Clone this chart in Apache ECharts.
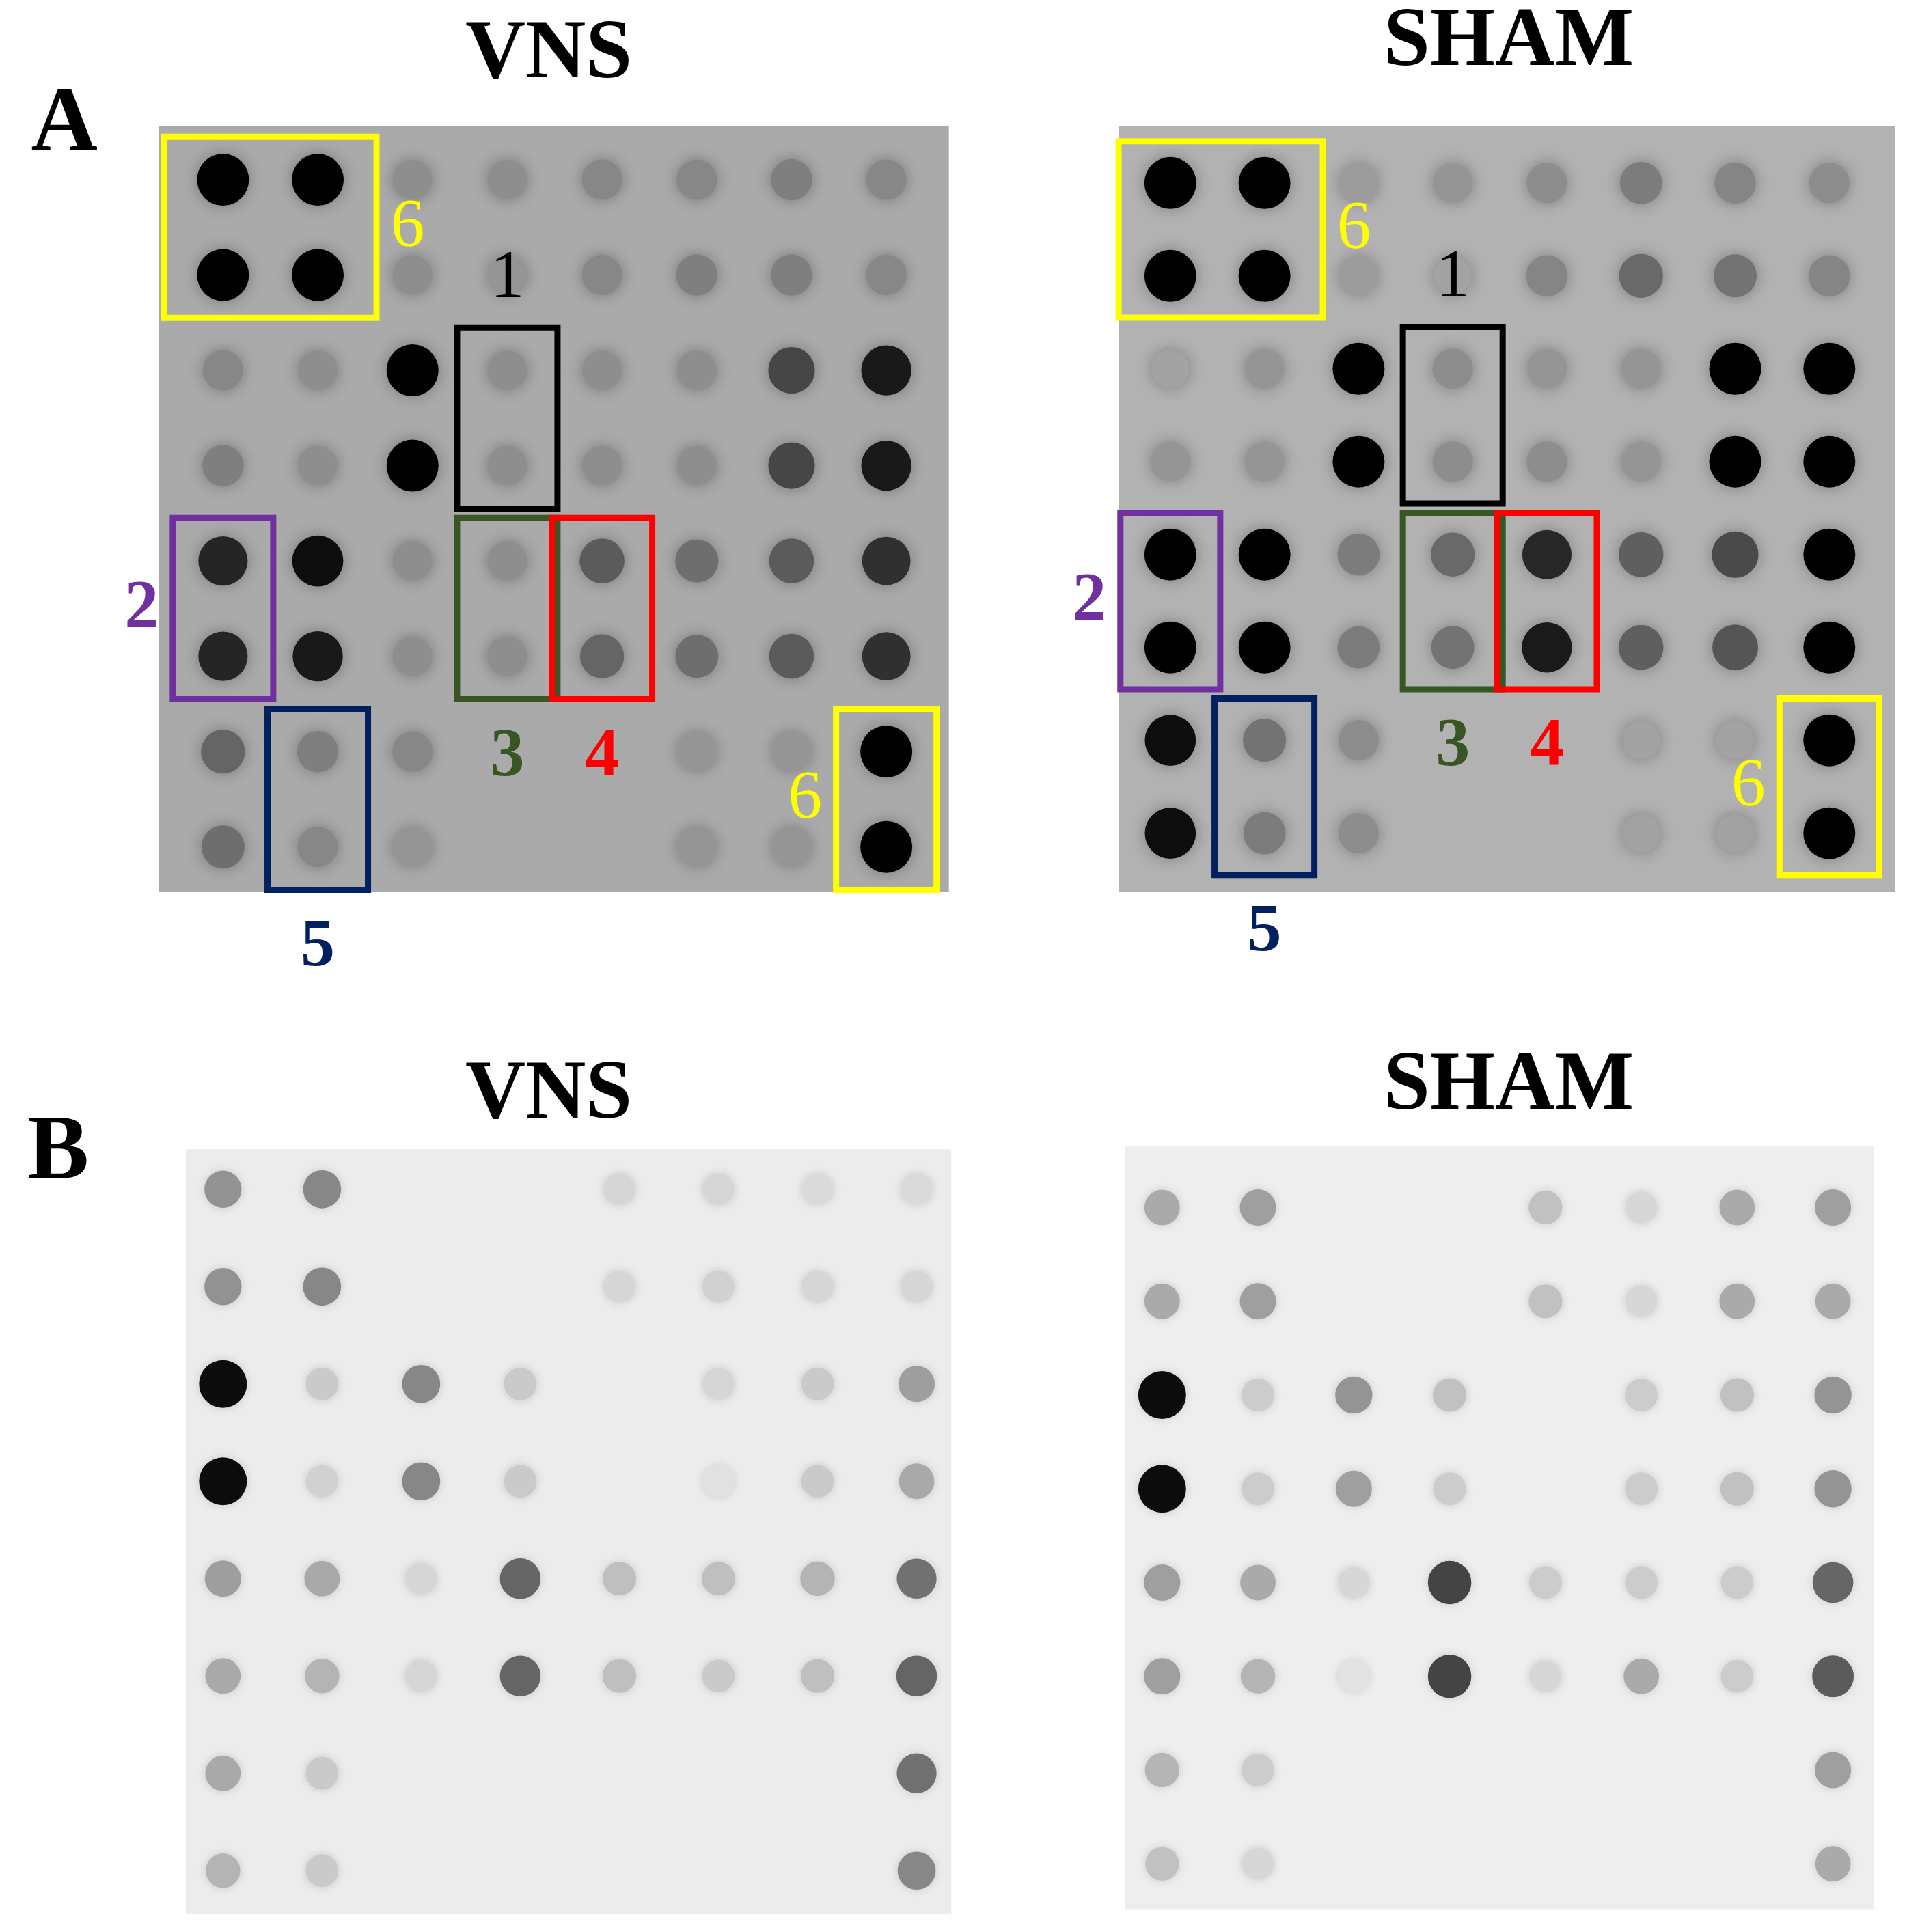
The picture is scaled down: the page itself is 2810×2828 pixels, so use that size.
<!DOCTYPE html>
<html><head><meta charset="utf-8">
<script src="https://cdn.jsdelivr.net/npm/echarts@6/dist/echarts.min.js"></script>
<style>html,body{margin:0;padding:0;background:#fff}#c{width:2810px;height:2828px}</style>
</head><body><div id="c"></div>
<script>
// Dot intensities (0 = background, 1 = black), rows top to bottom, 8 columns each
const aVNS = [
 [1,1,0.3,0.3,0.35,0.35,0.4,0.35],
 [1,1,0.3,0.25,0.35,0.4,0.4,0.35],
 [0.35,0.3,1,0.3,0.3,0.3,0.7,0.9],
 [0.4,0.3,1,0.3,0.3,0.3,0.7,0.9],
 [0.85,0.95,0.3,0.3,0.6,0.5,0.6,0.8],
 [0.85,0.9,0.3,0.3,0.55,0.5,0.6,0.8],
 [0.55,0.4,0.35,0,0,0.25,0.25,1],
 [0.5,0.35,0.25,0,0,0.25,0.25,1]];
const aSHAM = [
 [1,1,0.25,0.3,0.35,0.45,0.4,0.35],
 [1,1,0.25,0.2,0.4,0.55,0.5,0.4],
 [0.2,0.3,1,0.35,0.3,0.3,1,1],
 [0.3,0.3,1,0.35,0.35,0.3,1,1],
 [1,1,0.45,0.55,0.85,0.6,0.7,1],
 [1,1,0.45,0.5,0.9,0.6,0.65,1],
 [0.95,0.5,0.35,0,0,0.2,0.2,1],
 [0.95,0.45,0.35,0,0,0.2,0.2,1]];
const bVNS = [
 [0.4,0.45,0,0,0.1,0.1,0.08,0.08],
 [0.4,0.45,0,0,0.1,0.12,0.1,0.1],
 [1,0.15,0.45,0.15,0,0.1,0.15,0.35],
 [1,0.12,0.45,0.15,0,0.05,0.15,0.3],
 [0.35,0.3,0.1,0.6,0.2,0.2,0.25,0.55],
 [0.3,0.25,0.1,0.6,0.2,0.15,0.2,0.6],
 [0.3,0.15,0,0,0,0,0,0.55],
 [0.25,0.15,0,0,0,0,0,0.45]];
const bSHAM = [
 [0.3,0.35,0,0,0.2,0.1,0.3,0.35],
 [0.3,0.35,0,0,0.2,0.1,0.3,0.3],
 [1,0.15,0.4,0.2,0,0.15,0.2,0.4],
 [1,0.15,0.35,0.15,0,0.15,0.2,0.4],
 [0.35,0.3,0.1,0.75,0.15,0.15,0.15,0.6],
 [0.35,0.25,0.05,0.75,0.1,0.3,0.15,0.65],
 [0.25,0.15,0,0,0,0,0,0.35],
 [0.2,0.1,0,0,0,0,0,0.3]];
const titles = ['VNS','SHAM','VNS','SHAM'];
const panelLetters = ['A','B'];
// annotation boxes: [panel, col0, col1, row0, row1, color, label, labelPos, bold]
const boxes = [
 [0,0,1,0,1,'#ffff00','6','right',false],
 [0,3,3,2,3,'#000000','1','top',false],
 [0,0,0,4,5,'#7030a0','2','left',true],
 [0,3,3,4,5,'#375623','3','bottom',true],
 [0,4,4,4,5,'#ff0000','4','bottom',true],
 [0,1,1,6,7,'#002060','5','bottom',true],
 [0,7,7,6,7,'#ffff00','6','left',false],
 [1,0,1,0,1,'#ffff00','6','right',false],
 [1,3,3,2,3,'#000000','1','top',false],
 [1,0,0,4,5,'#7030a0','2','left',true],
 [1,3,3,4,5,'#375623','3','bottom',true],
 [1,4,4,4,5,'#ff0000','4','bottom',true],
 [1,1,1,6,7,'#002060','5','bottom',true],
 [1,7,7,6,7,'#ffff00','6','left',false]];

const S = 2810/1550;
const panels = [
 {d:aVNS, bg:[170,170,170], box:[128,102,638,618], x:[-0.68,7.66], y:[-0.56,7.47]},
 {d:aSHAM, bg:[178,178,178], box:[903,102,627,618], x:[-0.55,7.7], y:[-0.61,7.63]},
 {d:bVNS, bg:[236,236,236], box:[150,928,618,617], x:[-0.375,7.35], y:[-0.41,7.44]},
 {d:bSHAM, bg:[238,238,238], box:[908,925,605,617], x:[-0.39,7.43], y:[-0.66,7.49]}];
const titlePos = [[443,45],[1218,35],[443,885],[1218,878]];
const letterPos = [[52,102],[47,932]];

const grid=[], xAxis=[], yAxis=[], series=[], graphic=[];
panels.forEach((p,i)=>{
  const [l,t,w,h]=p.box;
  const isA=i<2;
  grid.push({left:l*S,top:t*S,width:w*S,height:h*S,show:true,backgroundColor:`rgb(${p.bg})`,borderWidth:0});
  xAxis.push({gridIndex:i,type:'value',min:p.x[0],max:p.x[1],show:false});
  yAxis.push({gridIndex:i,type:'value',min:p.y[0],max:p.y[1],inverse:true,show:false});
  const data=[];
  p.d.forEach((row,r)=>row.forEach((v,c)=>data.push([c,r,v])));
  const col=v=>{const dk=isA?Math.pow(v,1.5):v*0.95; const g=Math.round(p.bg[0]*(1-dk)); return `rgb(${g},${g},${g})`;};
  series.push({type:'scatter',xAxisIndex:i,yAxisIndex:i,data:data.filter(d=>d[2]>0.02),silent:true,
    symbolSize:d=>(isA?50:44)+26*d[2],
    itemStyle:{color:pr=>col(pr.data[2]),shadowBlur:isA?22:14,shadowColor:isA?'rgba(0,0,0,0.3)':'rgba(0,0,0,0.15)',opacity:1}
  });
  if(isA){
    series.push({type:'scatter',xAxisIndex:i,yAxisIndex:i,data:[],z:5,silent:true,
      markArea:{silent:true,z:5,data:boxes.filter(b=>b[0]===i).map(b=>{
        const pad = (b[1]!==b[2])?0.62:0.53;
        return [{xAxis:b[1]-pad,yAxis:b[3]-0.45,name:b[6],
          itemStyle:{color:'rgba(0,0,0,0)',borderColor:b[5],borderWidth:9},
          label:{show:true,position:b[7],distance:b[7]==='bottom'?30:16,color:b[5],fontFamily:'Liberation Serif',fontSize:100,fontWeight:b[8]?'bold':'normal'}},
         {xAxis:b[2]+pad,yAxis:b[4]+0.45}];})}});
  }
  graphic.push({type:'text',x:titlePos[i][0]*S,y:titlePos[i][1]*S,style:{text:titles[i],font:'bold 122px "Liberation Serif"',fill:'#000',textAlign:'center',textVerticalAlign:'middle'}});
});
letterPos.forEach((lp,k)=>graphic.push({type:'text',x:lp[0]*S,y:lp[1]*S,style:{text:panelLetters[k],font:'bold 135px "Liberation Serif"',fill:'#000',textAlign:'center',textVerticalAlign:'middle'}}));

const chart=echarts.init(document.getElementById('c'));
chart.setOption({animation:false,backgroundColor:'#fff',grid,xAxis,yAxis,series,graphic});
</script></body></html>
